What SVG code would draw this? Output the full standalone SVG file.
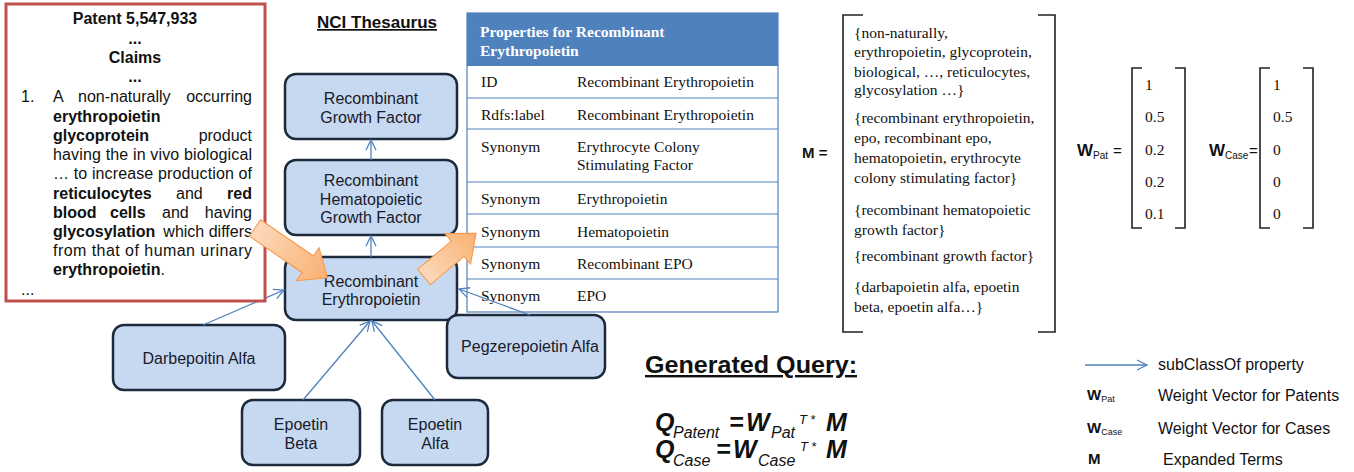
<svg xmlns="http://www.w3.org/2000/svg" width="1354" height="472" viewBox="0 0 1354 472">
<style>
.node rect{fill:#c6d9f0;stroke:#1c2a3c;stroke-width:2.5}
.node text{font-family:"Liberation Sans",Arial,sans-serif;font-size:16px;fill:#1a1a2a;text-anchor:middle}
.conn line{stroke:#4f81bd;stroke-width:1.3;fill:none}
.pt{font-family:"Liberation Sans",Arial,sans-serif;font-size:16px;fill:#111}
.b{font-weight:bold}
.tb{font-family:"Liberation Serif","Times New Roman",serif;font-size:15.5px;fill:#111}
.th{font-family:"Liberation Serif","Times New Roman",serif;font-size:15.5px;fill:#fff;font-weight:bold}
.brk{fill:none;stroke:#222;stroke-width:1.6}
.sans{font-family:"Liberation Sans",Arial,sans-serif;fill:#111}
.oarrow{fill:url(#og);stroke:#f79646;stroke-width:1}
.q{font-family:"Liberation Sans",Arial,sans-serif;fill:#111;font-weight:bold;font-style:italic;font-size:25px}
.qs{font-weight:normal;font-size:16px}
.qt{font-weight:normal;font-size:13px}
</style>
<defs>
<marker id="ah" markerUnits="userSpaceOnUse" markerWidth="14" markerHeight="14" refX="11" refY="6" orient="auto">
<path d="M1,1 L11,6 L1,11" fill="none" stroke="#4f81bd" stroke-width="1.3"/>
</marker>
<linearGradient id="og" x1="0" y1="0" x2="1" y2="0">
<stop offset="0" stop-color="#fcd9bc"/>
<stop offset="1" stop-color="#f9b171"/>
</linearGradient>
</defs>
<rect width="1354" height="472" fill="#fff"/>

<text x="377" y="28" class="sans b" font-size="17" text-anchor="middle" text-decoration="underline">NCI Thesaurus</text>

<g id="table">
<rect x="467" y="13" width="311" height="299" fill="#fff" stroke="#4f81bd" stroke-width="1.2"/>
<rect x="467" y="13" width="311" height="53" fill="#4f81bd"/>
<g stroke="#4f81bd" stroke-width="1.2">
<line x1="467" y1="98" x2="778" y2="98"/>
<line x1="467" y1="129" x2="778" y2="129"/>
<line x1="467" y1="182" x2="778" y2="182"/>
<line x1="467" y1="214" x2="778" y2="214"/>
<line x1="467" y1="247" x2="778" y2="247"/>
<line x1="467" y1="279" x2="778" y2="279"/>
</g>
<text class="th" x="480" y="37">Properties for Recombinant</text>
<text class="th" x="480" y="56">Erythropoietin</text>
<text class="tb" x="481" y="87">ID</text><text class="tb" x="577" y="87">Recombinant Erythropoietin</text>
<text class="tb" x="481" y="120">Rdfs:label</text><text class="tb" x="577" y="120">Recombinant Erythropoietin</text>
<text class="tb" x="481" y="152">Synonym</text><text class="tb" x="577" y="152">Erythrocyte Colony</text>
<text class="tb" x="577" y="170">Stimulating Factor</text>
<text class="tb" x="481" y="204">Synonym</text><text class="tb" x="577" y="204">Erythropoietin</text>
<text class="tb" x="481" y="237">Synonym</text><text class="tb" x="577" y="237">Hematopoietin</text>
<text class="tb" x="481" y="269">Synonym</text><text class="tb" x="577" y="269">Recombinant EPO</text>
<text class="tb" x="481" y="301">Synonym</text><text class="tb" x="577" y="301">EPO</text>
</g>

<g id="n-growth" class="node">
<rect x="285" y="74" width="172" height="65" rx="11"/>
<text x="371" y="103.5">Recombinant</text>
<text x="371" y="122.5">Growth Factor</text>
</g>
<g id="n-hema" class="node">
<rect x="285" y="160" width="172" height="75" rx="11"/>
<text x="371" y="185.5">Recombinant</text>
<text x="371" y="204.5">Hematopoietic</text>
<text x="371" y="222.5">Growth Factor</text>
</g>
<g id="n-ery" class="node">
<rect x="285" y="257" width="172" height="63" rx="11"/>
<text x="371" y="286.5">Recombinant</text>
<text x="371" y="304.5">Erythropoietin</text>
</g>
<g id="n-darb" class="node">
<rect x="113" y="325" width="172" height="65" rx="11"/>
<text x="199" y="363.5">Darbepoitin Alfa</text>
</g>
<g id="n-beta" class="node">
<rect x="242" y="400" width="118" height="65" rx="11"/>
<text x="301" y="429.5">Epoetin</text>
<text x="301" y="448.5">Beta</text>
</g>
<g id="n-alfa" class="node">
<rect x="382" y="400" width="106" height="65" rx="11"/>
<text x="435" y="429.5">Epoetin</text>
<text x="435" y="448.5">Alfa</text>
</g>
<g id="n-peg" class="node">
<rect x="447" y="315" width="158" height="63" rx="11"/>
<text x="530" y="352">Pegzerepoietin Alfa</text>
</g>

<g id="connectors" class="conn">
<line x1="371" y1="160" x2="371" y2="140" marker-end="url(#ah)"/>
<line x1="371" y1="257" x2="371" y2="236" marker-end="url(#ah)"/>
<line x1="203" y1="325" x2="284" y2="290" marker-end="url(#ah)"/>
<line x1="303" y1="400" x2="370" y2="321" marker-end="url(#ah)"/>
<line x1="435" y1="400" x2="372" y2="321" marker-end="url(#ah)"/>
<line x1="530" y1="315" x2="459" y2="289" marker-end="url(#ah)"/>
</g>

<g id="patent">
<rect x="6" y="4" width="259" height="297" fill="#fff" stroke="#c0504d" stroke-width="3"/>
<text class="pt b" x="135" y="24" text-anchor="middle">Patent 5,547,933</text>
<text class="pt b" x="135" y="44" text-anchor="middle">...</text>
<text class="pt b" x="135" y="62.5" text-anchor="middle">Claims</text>
<text class="pt b" x="135" y="82" text-anchor="middle">...</text>
<text class="pt" x="21" y="102">1.</text>
<text class="pt" x="53" y="102">A</text>
<text class="pt" x="78" y="102">non-naturally</text>
<text class="pt" x="252" y="102" text-anchor="end">occurring</text>
<text class="pt b" x="53" y="122">erythropoietin</text>
<text class="pt b" x="53" y="141">glycoprotein</text>
<text class="pt" x="252" y="141" text-anchor="end">product</text>
<text class="pt" x="53" y="160" textLength="199" lengthAdjust="spacing">having the in vivo biological</text>
<text class="pt" x="53" y="179" textLength="199" lengthAdjust="spacing">… to increase production of</text>
<text class="pt b" x="53" y="199">reticulocytes</text>
<text class="pt" x="176" y="199">and</text>
<text class="pt b" x="252" y="199" text-anchor="end">red</text>
<text class="pt b" x="53" y="218">blood</text>
<text class="pt b" x="110" y="218">cells</text>
<text class="pt" x="162" y="218">and</text>
<text class="pt" x="252" y="218" text-anchor="end">having</text>
<text class="pt b" x="53" y="237">glycosylation</text>
<text class="pt" x="252" y="237" text-anchor="end">which differs</text>
<text class="pt" x="53" y="256" textLength="199" lengthAdjust="spacing">from that of human urinary</text>
<text class="pt" x="53" y="275"><tspan class="b">erythropoietin</tspan>.</text>
<text class="pt" x="21" y="295" font-size="13">...</text>
</g>

<g id="orange-arrows">
<path class="oarrow" transform="translate(255,228) rotate(34.5)" d="M0,-10 L64,-10 L64,-20 L88,0 L64,20 L64,10 L0,10 Z"/>
<path class="oarrow" transform="translate(424,277) rotate(-40)" d="M0,-10 L44,-10 L44,-20 L68,0 L44,20 L44,10 L0,10 Z"/>
</g>

<g id="matrix-M">
<text class="sans b" x="802" y="158" font-size="15">M =</text>
<path class="brk" d="M863,15 H843 V332 H863"/>
<path class="brk" d="M1038,15 H1055 V332 H1038"/>
<text class="tb" x="854" y="38">{non-naturally,</text>
<text class="tb" x="854" y="57">erythropoietin, glycoprotein,</text>
<text class="tb" x="854" y="77">biological, …, reticulocytes,</text>
<text class="tb" x="854" y="95">glycosylation …}</text>
<text class="tb" x="854" y="123">{recombinant erythropoietin,</text>
<text class="tb" x="854" y="143">epo, recombinant epo,</text>
<text class="tb" x="854" y="163">hematopoietin, erythrocyte</text>
<text class="tb" x="854" y="183">colony stimulating factor}</text>
<text class="tb" x="854" y="215">{recombinant hematopoietic</text>
<text class="tb" x="854" y="235">growth factor}</text>
<text class="tb" x="854" y="261">{recombinant growth factor}</text>
<text class="tb" x="854" y="292">{darbapoietin alfa, epoetin</text>
<text class="tb" x="854" y="312">beta, epoetin alfa…}</text>
</g>

<g id="vector-Wpat">
<text class="sans b" x="1077" y="156" font-size="17">W<tspan font-size="10" font-weight="normal" dy="3">Pat</tspan></text>
<text class="sans" x="1113" y="156" font-size="15">=</text>
<path class="brk" d="M1142,68 H1132 V228 H1142"/>
<path class="brk" d="M1175,68 H1185 V228 H1175"/>
<text class="tb" x="1145" y="90">1</text>
<text class="tb" x="1145" y="122">0.5</text>
<text class="tb" x="1145" y="155">0.2</text>
<text class="tb" x="1145" y="187">0.2</text>
<text class="tb" x="1145" y="219">0.1</text>
</g>

<g id="vector-Wcase">
<text class="sans b" x="1209" y="156" font-size="17">W<tspan font-size="10" font-weight="normal" dy="3">Case</tspan></text>
<text class="sans" x="1249" y="156" font-size="15">=</text>
<path class="brk" d="M1270,68 H1260 V228 H1270"/>
<path class="brk" d="M1303,68 H1313 V228 H1303"/>
<text class="tb" x="1273" y="90">1</text>
<text class="tb" x="1273" y="122">0.5</text>
<text class="tb" x="1273" y="155">0</text>
<text class="tb" x="1273" y="187">0</text>
<text class="tb" x="1273" y="219">0</text>
</g>

<g id="query">
<text class="sans b" x="645" y="373" font-size="24" text-decoration="underline" textLength="212" lengthAdjust="spacingAndGlyphs">Generated Query:</text>
<text class="q"><tspan x="655" y="431">Q</tspan><tspan class="qs" x="673" y="438">Patent</tspan><tspan x="729" y="431">=</tspan><tspan x="746" y="431">W</tspan><tspan class="qs" x="771" y="438">Pat</tspan><tspan class="qt" x="799" y="424">T</tspan><tspan class="qt" x="810" y="424">*</tspan><tspan x="826" y="431">M</tspan></text>
<text class="q"><tspan x="655" y="458">Q</tspan><tspan class="qs" x="673" y="466">Case</tspan><tspan x="716" y="458">=</tspan><tspan x="733" y="458">W</tspan><tspan class="qs" x="758" y="466">Case</tspan><tspan class="qt" x="800" y="451">T</tspan><tspan class="qt" x="811" y="451">*</tspan><tspan x="826" y="458">M</tspan></text>
</g>

<g id="legend">
<line x1="1085" y1="365" x2="1147" y2="365" stroke="#4f81bd" stroke-width="1.3" marker-end="url(#ah)"/>
<text class="sans" x="1158" y="370" font-size="16">subClassOf property</text>
<text class="sans b" x="1087" y="400" font-size="15">W<tspan font-size="9" font-weight="normal" dy="2">Pat</tspan></text>
<text class="sans" x="1158" y="401" font-size="16">Weight Vector for Patents</text>
<text class="sans b" x="1087" y="433" font-size="15">W<tspan font-size="9" font-weight="normal" dy="2">Case</tspan></text>
<text class="sans" x="1158" y="434" font-size="16">Weight Vector for Cases</text>
<text class="sans b" x="1088" y="464" font-size="15">M</text>
<text class="sans" x="1163" y="465" font-size="16">Expanded Terms</text>
</g>
</svg>
